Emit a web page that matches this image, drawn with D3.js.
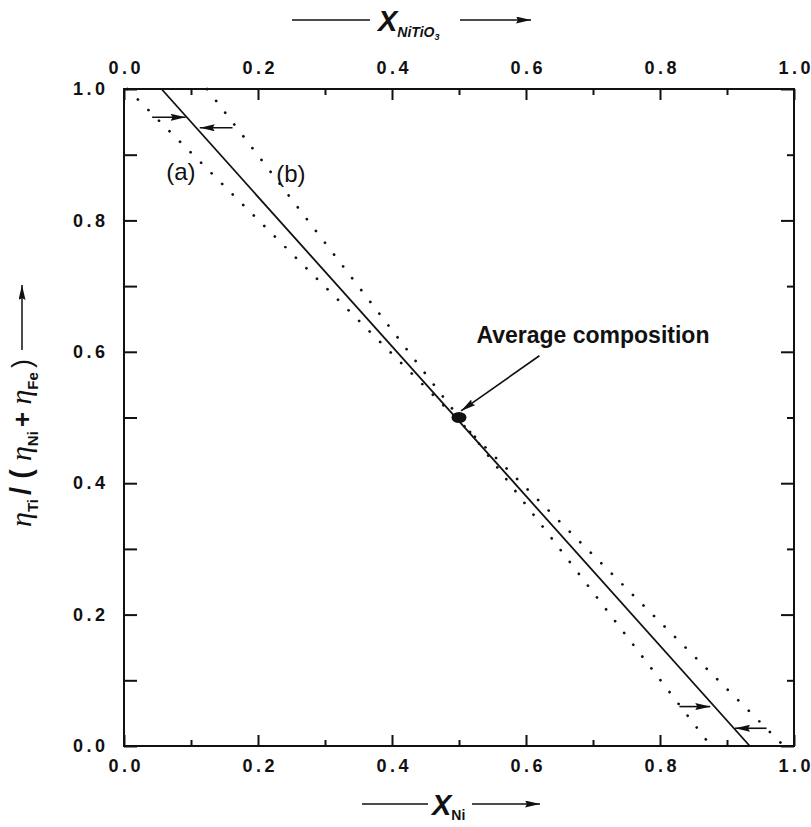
<!DOCTYPE html>
<html>
<head>
<meta charset="utf-8">
<script src="https://cdn.jsdelivr.net/npm/d3@7"></script>
<style>
  body { margin: 0; background: #fff; }
  text { font-family: "Liberation Sans", Arial, sans-serif; fill: #111; }
</style>
</head>
<body>
<script>
const margin = {top: 89, right: 17, bottom: 81, left: 124};
const canvasWidth = 811 - margin.left - margin.right;
const canvasHeight = 827 - margin.top - margin.bottom;

// tick values (both axes, top axis same as bottom)
const majorTicks = [0.0, 0.2, 0.4, 0.6, 0.8, 1.0];
const minorTicks = [0.1, 0.3, 0.5, 0.7, 0.9];

// lines
const solidLine = [{x: 0.056, y: 1.0}, {x: 0.934, y: 0.0}];
const dottedA = [{x: 0.005, y: 1.0}, {x: 0.985, y: 0.0}];
const dottedB = [{x: 0.124, y: 1.0}, {x: 0.876, y: 0.0}];
const avgPoint = {x: 0.5, y: 0.5};

// small horizontal arrows pointing at the solid line
const shiftArrows = [
    {x1: 0.042, x2: 0.092, y: 0.957},
    {x1: 0.162, x2: 0.113, y: 0.941},
    {x1: 0.829, x2: 0.875, y: 0.060},
    {x1: 0.959, x2: 0.912, y: 0.027}
];
const lineLabels = [
    {text: "(a)", x: 0.085, y: 0.861},
    {text: "(b)", x: 0.249, y: 0.858}
];
const avgLabel = {text: "Average composition", x: 0.526, y: 0.614};
const avgArrow = {x1: 0.62, y1: 0.594, x2: 0.503, y2: 0.51};

let svg = d3.select("body")
            .append("svg")
            .attr("width", 811)
            .attr("height", 827);

// arrowhead marker
let defs = svg.append("defs");
defs.append("marker")
    .attr("id", "head")
    .attr("markerUnits", "userSpaceOnUse")
    .attr("viewBox", "0 0 15 7")
    .attr("markerWidth", 15)
    .attr("markerHeight", 7)
    .attr("refX", 15)
    .attr("refY", 3.5)
    .attr("orient", "auto")
    .append("path")
    .attr("d", "M0,0 L15,3.5 L0,7 L2,3.5 Z")
    .attr("fill", "#111");

let g = svg.append("g")
           .attr("transform", "translate(" + margin.left + "," + margin.top + ")");

let xScale = d3.scaleLinear().domain([0, 1]).range([0, canvasWidth]);
let yScale = d3.scaleLinear().domain([0, 1]).range([canvasHeight, 0]);

// frame
g.append("rect")
 .attr("width", canvasWidth)
 .attr("height", canvasHeight)
 .attr("fill", "none")
 .attr("stroke", "#111")
 .attr("stroke-width", 2);

// axes (inward ticks, all four sides)
function tickAxis(axisFn, values, size, labels) {
    return axisFn.tickValues(values)
                 .tickSize(size)
                 .tickFormat(labels ? d3.format(".1f") : "");
}

// wide tracking between characters, without a trailing gap
const spacing = 3.5;
const tickFont = (sel) => sel.selectAll("text")
    .style("font-size", "18px")
    .style("font-weight", "bold")
    .attr("fill", "#111")
    .each(function() {
        let t = d3.select(this);
        let s = t.text();
        t.text("");
        s.split("").forEach((c, i) => t.append("tspan").attr("dx", i ? spacing : 0).text(c));
    });

// bottom
let bottomAxis = g.append("g").attr("transform", "translate(0," + canvasHeight + ")");
bottomAxis.append("g").call(tickAxis(d3.axisTop(xScale), majorTicks, 11, false));
bottomAxis.append("g").call(tickAxis(d3.axisTop(xScale), minorTicks, 6, false));
bottomAxis.append("g").call(tickAxis(d3.axisBottom(xScale), majorTicks, 0, true))
      .call(s => s.selectAll("text").attr("y", 13))
      .call(tickFont);

// top
let topAxis = g.append("g");
topAxis.append("g").call(tickAxis(d3.axisBottom(xScale), majorTicks, 11, false));
topAxis.append("g").call(tickAxis(d3.axisBottom(xScale), minorTicks, 6, false));
topAxis.append("g").call(tickAxis(d3.axisTop(xScale), majorTicks, 0, true))
   .call(s => s.selectAll("text").attr("y", -15))
   .call(tickFont);

// left
let leftAxis = g.append("g");
leftAxis.append("g").call(tickAxis(d3.axisRight(yScale), majorTicks, 13, false));
leftAxis.append("g").call(tickAxis(d3.axisRight(yScale), minorTicks, 13, false));
leftAxis.append("g").call(tickAxis(d3.axisLeft(yScale), majorTicks, 0, true))
    .call(s => s.selectAll("text").attr("x", -19))
    .call(tickFont);

// right
let rightAxis = g.append("g").attr("transform", "translate(" + canvasWidth + ",0)");
rightAxis.append("g").call(tickAxis(d3.axisLeft(yScale), majorTicks, 13, false));
rightAxis.append("g").call(tickAxis(d3.axisLeft(yScale), minorTicks, 7, false));

g.selectAll(".domain").remove();
g.selectAll(".tick line").attr("stroke", "#111").attr("stroke-width", 2);

// data lines
let line = d3.line().x(d => xScale(d.x)).y(d => yScale(d.y));

g.append("path")
 .datum(solidLine)
 .attr("d", line)
 .attr("fill", "none")
 .attr("stroke", "#111")
 .attr("stroke-width", 1.8);

[dottedA, dottedB].forEach(data => {
    g.append("path")
     .datum(data)
     .attr("d", line)
     .attr("fill", "none")
     .attr("stroke", "#111")
     .attr("stroke-width", 2.7)
     .attr("stroke-linecap", "round")
     .attr("stroke-dasharray", "0.1,14.8");
});

// arrows toward the line
g.selectAll(".shift")
 .data(shiftArrows)
 .enter()
 .append("line")
 .attr("class", "shift")
 .attr("x1", d => xScale(d.x1))
 .attr("x2", d => xScale(d.x2))
 .attr("y1", d => yScale(d.y))
 .attr("y2", d => yScale(d.y))
 .attr("stroke", "#111")
 .attr("stroke-width", 1.6)
 .attr("marker-end", "url(#head)");

// (a) (b)
g.selectAll(".lbl")
 .data(lineLabels)
 .enter()
 .append("text")
 .attr("class", "lbl")
 .attr("x", d => xScale(d.x))
 .attr("y", d => yScale(d.y))
 .attr("text-anchor", "middle")
 .style("font-size", "24px")
 .text(d => d.text);

// average composition
g.append("ellipse")
 .attr("cx", xScale(avgPoint.x))
 .attr("cy", yScale(avgPoint.y))
 .attr("rx", 7.5)
 .attr("ry", 5.5)
 .attr("fill", "#111");

g.append("line")
 .attr("x1", xScale(avgArrow.x1))
 .attr("y1", yScale(avgArrow.y1))
 .attr("x2", xScale(avgArrow.x2))
 .attr("y2", yScale(avgArrow.y2))
 .attr("stroke", "#111")
 .attr("stroke-width", 1.6)
 .attr("marker-end", "url(#head)");

g.append("text")
 .attr("x", xScale(avgLabel.x))
 .attr("y", yScale(avgLabel.y))
 .style("font-size", "23px")
 .style("font-weight", "bold")
 .text(avgLabel.text);

// top title: ---- X_NiTiO3 ---->
svg.append("line").attr("x1", 292).attr("x2", 370).attr("y1", 20).attr("y2", 20)
   .attr("stroke", "#111").attr("stroke-width", 1.5);
let topTitle = svg.append("text")
    .attr("x", 378).attr("y", 31)
    .style("font-weight", "bold").style("font-style", "italic");
topTitle.append("tspan").style("font-size", "29px").text("X");
topTitle.append("tspan").style("font-size", "14px").attr("dy", 6).text("NiTiO");
topTitle.append("tspan").style("font-size", "9px").attr("dy", 3).text("3");
svg.append("line").attr("x1", 460).attr("x2", 531).attr("y1", 20).attr("y2", 20)
   .attr("stroke", "#111").attr("stroke-width", 1.5).attr("marker-end", "url(#head)");

// bottom title: ---- X_Ni ---->
svg.append("line").attr("x1", 362).attr("x2", 428).attr("y1", 804).attr("y2", 804)
   .attr("stroke", "#111").attr("stroke-width", 1.5);
let botTitle = svg.append("text")
    .attr("x", 432).attr("y", 815)
    .style("font-weight", "bold");
botTitle.append("tspan").style("font-size", "29px").style("font-style", "italic").text("X");
botTitle.append("tspan").style("font-size", "14px").attr("dy", 5).text("Ni");
svg.append("line").attr("x1", 472).attr("x2", 540).attr("y1", 804).attr("y2", 804)
   .attr("stroke", "#111").attr("stroke-width", 1.5).attr("marker-end", "url(#head)");

// y title: eta_Ti / ( eta_Ni + eta_Fe ) ---->
let yTitle = svg.append("text")
    .attr("transform", "translate(31,527) rotate(-90)");
const eta = (sel) => sel.append("tspan")
    .style("font-family", "'Liberation Serif', serif")
    .style("font-style", "italic")
    .style("font-size", "30px")
    .text("\u03B7");
const sub = (sel, t) => {
    sel.append("tspan").attr("dy", 7).style("font-size", "15px").style("font-weight", "bold").text(t);
    sel.append("tspan").attr("dy", -7).style("font-size", "15px").text(" ");
};
eta(yTitle); sub(yTitle, "Ti");
yTitle.append("tspan").style("font-size", "29px").style("font-weight", "bold").text("/ ( ");
eta(yTitle); sub(yTitle, "Ni");
yTitle.append("tspan").style("font-size", "26px").style("font-weight", "bold").text("+ ");
eta(yTitle); sub(yTitle, "Fe");
yTitle.append("tspan").style("font-size", "27px").text(" )");

svg.append("line").attr("x1", 22).attr("x2", 22).attr("y1", 350).attr("y2", 285)
   .attr("stroke", "#111").attr("stroke-width", 1.5).attr("marker-end", "url(#head)");
</script>
</body>
</html>
